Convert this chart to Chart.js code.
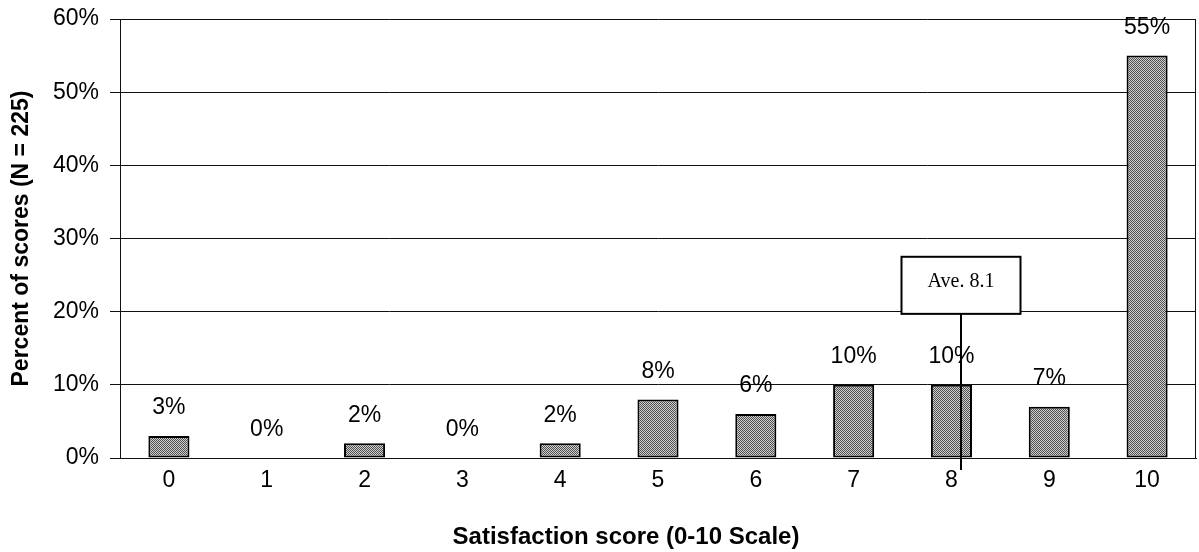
<!DOCTYPE html>
<html>
<head>
<meta charset="utf-8">
<script src="https://cdn.jsdelivr.net/npm/chart.js@4/dist/chart.umd.min.js"></script>
<style>
  html, body { margin: 0; padding: 0; background: #fff; }
  #wrap { width: 1199px; height: 552px; }
</style>
</head>
<body>
<div id="wrap"><canvas id="c" width="1199" height="552"></canvas></div>
<script>
// Satisfaction score distribution
const scores = ['0', '1', '2', '3', '4', '5', '6', '7', '8', '9', '10'];
const percentOfScores = [3, 0, 2, 0, 2, 8, 6, 10, 10, 7, 55];
const yTickValues = [0, 10, 20, 30, 40, 50, 60];
const averageScore = 8.1;
const averageText = 'Ave. 8.1';
const averageBoxRange = [19.7, 27.5]; // box spans these percent levels
const yTitle = 'Percent of scores (N = 225)';
const xTitle = 'Satisfaction score (0-10 Scale)';

const SANS = '"Liberation Sans", Arial, Helvetica, sans-serif';
const SERIF = '"Liberation Serif", "Times New Roman", serif';

// dithered grey fill for the bars
function ditherPattern() {
  const p = document.createElement('canvas');
  p.width = 2; p.height = 2;
  const g = p.getContext('2d');
  g.fillStyle = '#cfcfcf'; g.fillRect(0, 0, 2, 2);
  g.fillStyle = '#505050'; g.fillRect(0, 0, 1, 1); g.fillRect(1, 1, 1, 1);
  return g.createPattern(p, 'repeat');
}

const ctx = document.getElementById('c').getContext('2d');

const annotations = {
  id: 'annotations',
  afterDatasetsDraw(chart) {
    const c = chart.ctx;
    const xs = chart.scales.x, ys = chart.scales.y;
    const area = chart.chartArea;
    c.save();

    // right frame edge
    c.strokeStyle = '#111';
    c.lineWidth = 1;
    c.beginPath();
    c.moveTo(Math.round(area.right) - 0.5, area.top);
    c.lineTo(Math.round(area.right) - 0.5, area.bottom);
    c.stroke();

    // value labels above the bars
    c.fillStyle = '#000';
    c.font = '23px ' + SANS;
    c.textAlign = 'center';
    c.textBaseline = 'middle';
    percentOfScores.forEach((v, i) => {
      c.fillText(v + '%', xs.getPixelForValue(i), ys.getPixelForValue(v) - 28);
    });

    // average marker: leader line and labelled box
    const ax = Math.round(xs.getPixelForValue(averageScore));
    const boxBottom = ys.getPixelForValue(averageBoxRange[0]);
    const boxTop = ys.getPixelForValue(averageBoxRange[1]);
    c.strokeStyle = '#000';
    c.lineWidth = 2;
    c.beginPath();
    c.moveTo(ax, boxBottom);
    c.lineTo(ax, area.bottom + 12);
    c.stroke();

    const bw = 119;
    c.fillStyle = '#fff';
    c.fillRect(ax - bw / 2, boxTop, bw, boxBottom - boxTop);
    c.strokeRect(ax - bw / 2, boxTop, bw, boxBottom - boxTop);
    c.fillStyle = '#000';
    c.font = '20px ' + SERIF;
    c.fillText(averageText, ax, boxTop + (boxBottom - boxTop) * 0.43);

    // horizontal axis title
    c.font = 'bold 24px ' + SANS;
    c.fillText(xTitle, (area.left + area.right) / 2 - 32, 537);
    c.restore();
  }
};

new Chart(ctx, {
  type: 'bar',
  data: {
    labels: scores,
    datasets: [{
      data: percentOfScores,
      backgroundColor: ditherPattern(),
      borderColor: '#000',
      borderWidth: 2,
      borderSkipped: false,
      barPercentage: 0.42,
      categoryPercentage: 1.0
    }]
  },
  options: {
    responsive: false,
    devicePixelRatio: 1,
    animation: false,
    layout: { padding: { top: 19, right: 3, bottom: 0, left: 0 } },
    plugins: { legend: { display: false }, tooltip: { enabled: false } },
    scales: {
      x: {
        grid: { display: true, drawOnChartArea: false, drawTicks: false },
        border: { display: true, color: '#111', width: 1 },
        ticks: { color: '#000', font: { family: SANS, size: 23 }, padding: 9 },
        afterFit(s) { s.height = 94; s.paddingLeft = 0; s.paddingRight = 0; }
      },
      y: {
        min: 0, max: 60,
        afterBuildTicks(s) { s.ticks = yTickValues.map(v => ({ value: v })); },
        grid: { color: '#111', lineWidth: 1, tickLength: 10 },
        border: { display: true, color: '#111', width: 1 },
        ticks: {
          color: '#000', font: { family: SANS, size: 23 }, padding: 11,
          callback: v => v + '%'
        },
        title: {
          display: true, text: yTitle, color: '#000',
          font: { family: SANS, size: 23, weight: 'bold' },
          padding: { top: 8, bottom: 0 }
        },
        afterFit(s) { s.width = 120; s.paddingTop = 0; s.paddingBottom = 0; }
      }
    }
  },
  plugins: [annotations]
});
</script>
</body>
</html>
